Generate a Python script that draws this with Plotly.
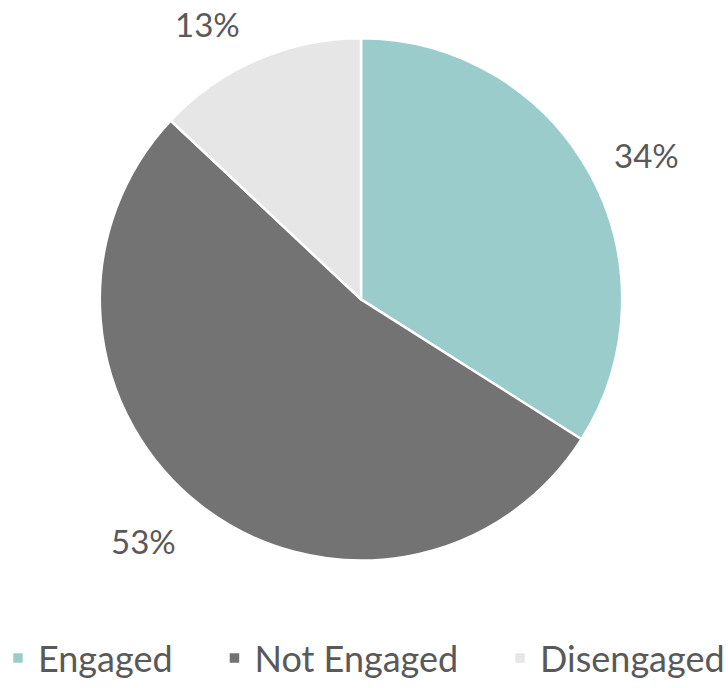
import math
import plotly.graph_objects as go

categories = ["Engaged", "Not Engaged", "Disengaged"]
values = [34, 53, 13]
colors = ["#9BCCCC", "#737373", "#E6E6E6"]

# label placement tweaks (angle nudge in degrees, radial factor)
label_nudge_deg = [2.0, 3.1, -5.5]
label_dist = [1.22, 1.265, 1.21]

W, H = 728, 688
cx, cy, R = 361, 302.5, 262
Rd, cyd = 267, 306  # domain half-size / centre (plotly trims slightly)

# pad legend entries to widen spacing between items
pad = "\u00a0" * 4
legend_names = [c + pad for c in categories[:-1]] + [categories[-1]]

fig = go.Figure(go.Pie(
    labels=legend_names,
    values=values,
    sort=False,
    direction="clockwise",
    rotation=0,
    marker=dict(colors=colors, line=dict(color="white", width=2.5)),
    textinfo="none",
    hovertext=categories,
    hoverinfo="text+percent",
    domain=dict(x=[(cx - Rd) / W, (cx + Rd) / W], y=[1 - (cyd + Rd) / H, 1 - (cyd - Rd) / H]),
))

total = sum(values)
cum = 0
annotations = []
for v, nd, df in zip(values, label_nudge_deg, label_dist):
    mid = (cum + v / 2) / total * 2 * math.pi + math.radians(nd)
    cum += v
    d = R * df
    px = cx + d * math.sin(mid)
    py = cy - d * math.cos(mid)
    annotations.append(dict(
        x=px / W, y=1 - py / H, xref="paper", yref="paper",
        text=f"{round(v / total * 100)}%", showarrow=False,
        font=dict(size=33, color="#595959", family="Lato"),
        xanchor="center", yanchor="middle",
    ))

fig.update_layout(
    width=W, height=H,
    margin=dict(l=0, r=0, t=0, b=0),
    paper_bgcolor="white",
    plot_bgcolor="white",
    font=dict(family="Lato", color="#595959"),
    annotations=annotations,
    showlegend=True,
    legend=dict(
        orientation="h", x=0.5, xanchor="center", y=1 - 673 / H, yanchor="middle",
        font=dict(size=36, color="#595959", family="Lato"),
        itemwidth=30, tracegroupgap=0,
    ),
)

fig.write_html("out.html", config={"displayModeBar": False},
               post_script="document.body.style.margin='0';")
